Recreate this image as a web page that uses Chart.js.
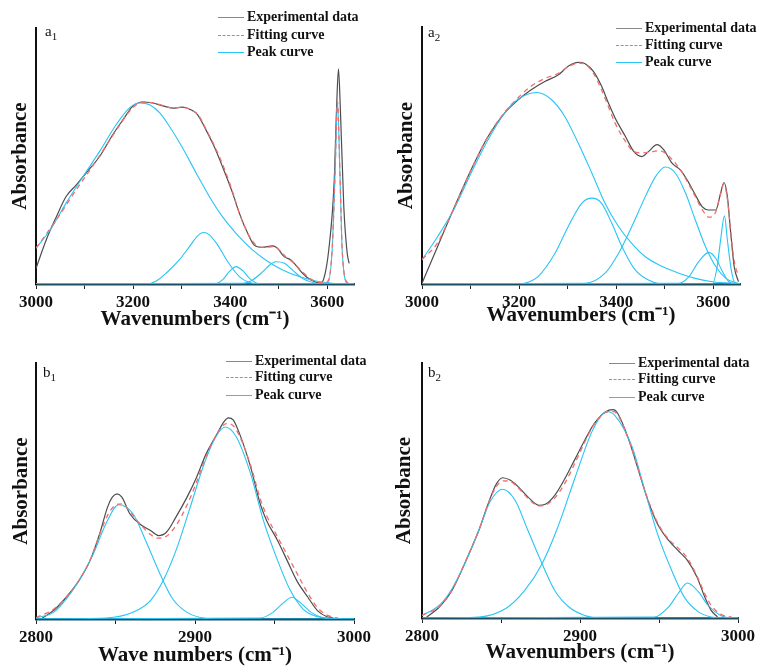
<!DOCTYPE html>
<html>
<head>
<meta charset="utf-8">
<script src="https://cdn.jsdelivr.net/npm/chart.js@4.4.1/dist/chart.umd.min.js"></script>
<style>
body { margin:0; background:#fff; }
#page { position:relative; width:758px; height:668px; overflow:hidden; font-family:"Liberation Serif", "Times New Roman", serif; }
canvas { position:absolute; }
.tag { position:absolute; font-size:15px; color:#111; line-height:15px; }
.tag sub { font-size:11px; }
.leg { position:absolute; height:16px; display:flex; align-items:center; font-weight:bold; font-size:14px; color:#111; white-space:nowrap; }
.leg span { display:inline-block; width:26px; margin-right:3px; border-top:1.5px solid; }
</style>
</head>
<body>
<div id="page">
  <canvas id="a1" width="379" height="334" style="left:0;top:0"></canvas>
  <canvas id="a2" width="379" height="334" style="left:379px;top:0"></canvas>
  <canvas id="b1" width="379" height="334" style="left:0;top:334px"></canvas>
  <canvas id="b2" width="379" height="334" style="left:379px;top:334px"></canvas>

  <div class="tag" style="left:45px;top:24px">a<sub>1</sub></div>
  <div class="tag" style="left:428px;top:25px">a<sub>2</sub></div>
  <div class="tag" style="left:43px;top:365px">b<sub>1</sub></div>
  <div class="tag" style="left:428px;top:365px">b<sub>2</sub></div>

  <div class="leg" style="left:218px;top:9px"><span style="border-color:#888"></span>Experimental data</div>
  <div class="leg" style="left:218px;top:27px"><span style="border-color:#f26d6d;border-top-style:dashed"></span>Fitting curve</div>
  <div class="leg" style="left:218px;top:44px"><span style="border-color:#29c4f5"></span>Peak curve</div>

  <div class="leg" style="left:616px;top:20px"><span style="border-color:#888"></span>Experimental data</div>
  <div class="leg" style="left:616px;top:37px"><span style="border-color:#f26d6d;border-top-style:dashed"></span>Fitting curve</div>
  <div class="leg" style="left:616px;top:54px"><span style="border-color:#29c4f5"></span>Peak curve</div>

  <div class="leg" style="left:226px;top:353px"><span style="border-color:#888"></span>Experimental data</div>
  <div class="leg" style="left:226px;top:369px"><span style="border-color:#f26d6d;border-top-style:dashed"></span>Fitting curve</div>
  <div class="leg" style="left:226px;top:387px"><span style="border-color:#29c4f5"></span>Peak curve</div>

  <div class="leg" style="left:609px;top:355px"><span style="border-color:#888"></span>Experimental data</div>
  <div class="leg" style="left:609px;top:371px"><span style="border-color:#f26d6d;border-top-style:dashed"></span>Fitting curve</div>
  <div class="leg" style="left:609px;top:389px"><span style="border-color:#29c4f5"></span>Peak curve</div>
</div>
<script>
// tick labels
const aTickLabels = [3000, 3200, 3400, 3600];
const bTickLabels = [2800, 2900, 3000];

// ---- a1 : [wavenumber, absorbance] ----
const a1Exp = [[3000,6.1],[3021,17.2],[3042,26.3],[3062,34.2],[3083,38.7],[3103,43.3],[3131,49.8],[3158,58.3],[3179,64.1],[3199,69.4],[3220,71.1],[3240,70.7],[3261,69.6],[3282,68.7],[3302,69.1],[3319,68.1],[3333,66.1],[3350,60.2],[3367,53.7],[3384,45.9],[3405,35.5],[3419,27.6],[3436,19.8],[3449,15.3],[3466,14.3],[3487,14.9],[3497,14.0],[3511,10.7],[3525,9.4],[3535,7.4],[3549,4.2],[3566,1.6],[3586,0.5],[3593,2.2],[3603,13.3],[3614,39.4],[3619,68.1],[3623,84],[3627,68],[3634,30.2],[3641,12],[3645,8.1]];
const a1Fit = [[3000,14],[3040,24.5],[3080,36],[3120,47],[3160,58.5],[3200,69],[3220,71.1],[3240,70.8],[3260,69.8],[3280,68.8],[3300,69],[3320,68],[3335,65.8],[3350,60.5],[3370,53],[3390,44],[3405,36],[3420,27],[3440,18.5],[3455,15],[3470,14.3],[3490,14.6],[3500,13.5],[3515,10.5],[3530,8.4],[3550,4.5],[3570,1.5],[3590,0.5],[3600,0.8],[3610,13.5],[3616,43.5],[3621,71.3],[3626,43.5],[3631,12.2],[3642,0.5],[3650,0.2]];
const a1Peak1 = [[3000,14],[3029,21.1],[3062,31.6],[3097,42],[3131,51.8],[3165,62.2],[3192,68.7],[3213,70.7],[3234,70],[3255,66.8],[3275,61.5],[3302,53.1],[3330,43.3],[3357,34.2],[3384,26.3],[3412,19.8],[3446,13.3],[3473,9.4],[3508,5.5],[3542,2.9],[3576,1.2],[3610,0.3],[3655,0]];
const a1Peak2 = [[3000,0],[3227,0],[3248,1.2],[3268,4.2],[3295,9.4],[3316,14.6],[3333,18.8],[3345,20.1],[3357,19.2],[3374,15.3],[3395,8.7],[3419,2.9],[3446,0.3],[3470,0],[3655,0]];
const a1Peak3 = [[3000,0],[3367,0],[3384,1.6],[3398,4.8],[3412,6.8],[3426,5.2],[3440,2.2],[3457,0.2],[3470,0],[3655,0]];
const a1Peak4 = [[3000,0],[3425,0.3],[3446,1.6],[3467,4.8],[3481,7.4],[3494,8.7],[3512,8.1],[3528,5.5],[3549,2.2],[3576,0.3],[3590,0],[3655,0]];
const a1Peak5 = [[3000,0],[3600,0],[3610,13.3],[3616,43.3],[3621,71.3],[3626,43.3],[3631,12],[3642,0.3],[3655,0]];

// ---- a2 ----
const a2Exp = [[3000,0.3],[3032,14.5],[3067,30.1],[3101,44.4],[3136,57.4],[3170,66.5],[3198,71.7],[3225,75.6],[3253,78.8],[3281,81.4],[3301,84.7],[3322,86.2],[3336,85.7],[3353,82.7],[3370,76.9],[3384,70.4],[3398,64.5],[3419,57.4],[3436,51.6],[3453,49.6],[3467,51.6],[3484,54.2],[3498,52.2],[3515,47],[3532,44.4],[3546,40.5],[3563,34.7],[3577,30.1],[3591,28.8],[3605,28.8],[3615,35.3],[3622,39.5],[3629,34],[3636,19.7],[3643,6.8],[3652,0.9]];
const a2Fit = [[3000,9.5],[3032,16],[3067,30],[3101,44.4],[3136,57.4],[3170,66.8],[3198,72.5],[3225,77],[3253,80],[3281,82],[3301,84.5],[3322,86],[3336,85.5],[3353,82],[3370,75.5],[3384,69],[3398,62.5],[3419,55.5],[3436,51.5],[3453,51],[3470,51.3],[3484,51.8],[3498,51.3],[3515,48.5],[3532,44.5],[3546,40],[3563,34],[3577,29],[3591,26],[3605,28],[3615,35],[3622,39],[3629,33],[3636,20],[3643,9],[3652,3]];
const a2Peak1 = [[3000,9.4],[3032,18.4],[3067,29.5],[3101,43.1],[3136,56.1],[3170,66.5],[3198,71.9],[3236,74.5],[3267,71.7],[3294,65.2],[3322,54.8],[3350,43.1],[3377,31.4],[3405,22.3],[3432,15.8],[3460,10.6],[3495,6.8],[3529,4.2],[3563,2.2],[3598,0.9],[3655,0.2]];
const a2Peak2 = [[3000,0],[3198,0],[3220,0.8],[3239,2.9],[3274,12],[3301,22.3],[3329,31.4],[3350,33.4],[3370,31.4],[3391,23.6],[3412,14.5],[3439,5.5],[3474,0.9],[3501,0],[3655,0]];
const a2Peak3 = [[3000,0],[3336,0.3],[3377,4.2],[3405,12],[3432,22.3],[3460,34],[3481,41.8],[3501,45.5],[3522,43.1],[3543,35.3],[3563,24.9],[3584,14.5],[3605,6.8],[3626,2.2],[3650,0.3],[3655,0]];
const a2Peak4 = [[3000,0],[3529,0.3],[3550,2.9],[3570,8.7],[3591,12.3],[3605,10],[3619,4.8],[3632,0.9],[3645,0],[3655,0]];
const a2Peak5 = [[3000,0],[3598,0],[3608,6.8],[3615,17.1],[3623,26.5],[3629,17.1],[3637,5.5],[3645,0.3],[3655,0]];

// ---- b1 ----
const b1Exp = [[2804,0.4],[2811,3.3],[2819,8.5],[2827,15],[2834,22.8],[2840,33.2],[2845,43.7],[2848,47.6],[2851,48.9],[2854,47.6],[2859,41.1],[2865,37.2],[2872,34.6],[2877,32.6],[2882,33.9],[2888,39.8],[2895,47.6],[2901,55.4],[2907,64.5],[2914,72.4],[2918,76.9],[2921,78.6],[2924,77.8],[2928,72.4],[2935,59.3],[2941,45],[2945,38.5],[2952,30.6],[2958,22.8],[2964,15],[2971,8.5],[2977,3.3],[2983,0.9],[2987,0.4]];
const b1Fit = [[2800,0.5],[2811,3.8],[2819,8.5],[2827,15],[2834,23],[2840,33],[2845,40.5],[2850,44.5],[2854,45],[2859,42],[2865,37.5],[2872,33],[2877,31.6],[2882,32.3],[2888,36.5],[2895,44.5],[2901,53.5],[2907,63.5],[2914,72.5],[2918,75.8],[2921,76.3],[2924,75.5],[2928,71.5],[2935,60],[2941,47],[2945,40.5],[2952,32],[2958,25],[2964,18],[2971,10],[2977,4.5],[2983,1.5],[2990,0.3]];
const b1Peak1 = [[2800,0.4],[2811,2.6],[2819,7.8],[2827,15],[2836,25.4],[2844,37.2],[2852,44.6],[2861,41.1],[2869,30.6],[2878,17.6],[2886,7.8],[2895,2.6],[2905,0.4],[2915,0],[3000,0]];
const b1Peak2 = [[2800,0],[2844,0.4],[2861,2.6],[2872,7.2],[2880,15],[2888,26.7],[2897,43.7],[2905,59.3],[2913,71.1],[2919,75],[2926,71.1],[2935,56.7],[2943,38.5],[2952,22.8],[2960,11.1],[2968,3.9],[2977,0.9],[2985,0.4],[2995,0],[3000,0]];
const b1Peak3 = [[2800,0],[2941,0.4],[2949,2.6],[2956,6.5],[2961,8.5],[2966,6.5],[2973,2.6],[2981,0.4],[2990,0],[3000,0]];

// ---- b2 ----
const b2Exp = [[2803,0.4],[2811,4.3],[2819,10.8],[2827,21.3],[2836,34.4],[2842,45],[2847,52.5],[2851,55],[2856,54],[2861,51.4],[2867,47.5],[2874,44.2],[2878,44.6],[2884,48.1],[2891,55.3],[2897,62.5],[2903,69.7],[2909,76.2],[2916,80.8],[2921,81.7],[2924,80.1],[2931,69.7],[2937,57.9],[2943,46.1],[2949,37],[2956,30.5],[2962,26.5],[2968,22.6],[2974,16.1],[2979,8.2],[2983,3],[2987,0.4]];
const b2Fit = [[2800,1],[2811,4.5],[2819,11],[2827,21.5],[2836,34.5],[2842,45],[2847,51.5],[2851,53.8],[2856,53.5],[2861,51],[2867,47],[2874,44],[2878,44.3],[2884,47],[2891,53.5],[2897,61],[2903,69],[2909,76],[2916,80.5],[2921,81],[2924,79.5],[2931,69.5],[2937,58],[2943,46.5],[2949,37.5],[2956,31],[2962,27.5],[2968,23.5],[2974,16.5],[2979,9.5],[2983,5],[2989,1.5],[2996,0.3]];
const b2Peak1 = [[2800,1],[2811,5],[2819,11.5],[2827,21.3],[2836,34.4],[2843,45.5],[2851,50.5],[2859,46.1],[2867,34.4],[2876,21.3],[2884,10.8],[2893,4.3],[2903,1],[2914,0],[3000,0]];
const b2Peak2 = [[2800,0],[2836,0.4],[2853,3.7],[2865,10.8],[2876,21.3],[2886,35.7],[2897,55.3],[2907,72.3],[2913,79],[2917,81],[2922,79.5],[2933,67.1],[2941,50.1],[2949,33.1],[2958,18.7],[2966,8.2],[2975,2.4],[2983,0.4],[2990,0],[3000,0]];
const b2Peak3 = [[2800,0],[2947,0.4],[2956,4.3],[2962,9.5],[2968,13.7],[2975,10.2],[2981,5],[2989,1],[2996,0],[3000,0]];

const expColor = "#4d4d4d";
const fitColor = "#f26d6d";
const peakColor = "#29c4f5";
const serif = "'Liberation Serif', 'Times New Roman', serif";

function pts(arr) {
    return arr.map(p => ({x: p[0], y: p[1]}));
}

function makeDatasets(exp, fit, peaks) {
    const ds = [];
    ds.push({label: "Fitting curve", data: pts(fit), borderColor: fitColor, borderWidth: 1.3, borderDash: [5, 4], order: 1});
    peaks.forEach(p => {
        ds.push({label: "Peak curve", data: pts(p), borderColor: peakColor, borderWidth: 1.1, order: 2});
    });
    ds.push({label: "Experimental data", data: pts(exp), borderColor: expColor, borderWidth: 1.2, order: 3});
    return ds;
}

function drawPanel(id, p) {
    new Chart(document.getElementById(id), {
        type: "line",
        data: { datasets: makeDatasets(p.exp, p.fit, p.peaks) },
        options: {
            responsive: false,
            animation: false,
            devicePixelRatio: 1,
            layout: { padding: { top: p.top, right: p.right, left: 0, bottom: 0 } },
            elements: {
                point: { radius: 0 },
                line: { cubicInterpolationMode: "monotone", fill: false }
            },
            plugins: { legend: { display: false }, tooltip: { enabled: false } },
            scales: {
                x: {
                    type: "linear",
                    min: p.min,
                    max: p.max,
                    afterFit: s => { s.height = p.xh; },
                    ticks: {
                        stepSize: p.step,
                        includeBounds: false,
                        autoSkip: false,
                        maxRotation: 0,
                        padding: 3,
                        color: "#111",
                        font: { family: serif, size: 17, weight: "bold" },
                        callback: v => p.labels.includes(v) ? String(v) : ""
                    },
                    grid: { drawOnChartArea: false, drawTicks: true, tickLength: 5, color: "#222" },
                    border: { display: true, color: "#1c4f63", width: 2.5 },
                    title: {
                        display: true, text: p.xTitle, color: "#111",
                        font: { family: serif, size: 21, weight: "bold", lineHeight: 1 },
                        padding: { top: 0, bottom: p.xPad }
                    }
                },
                y: {
                    min: 0,
                    max: 100,
                    afterFit: s => { s.width = p.yw; },
                    ticks: { display: false },
                    grid: { display: false },
                    border: { display: true, color: "#111", width: 2 },
                    title: {
                        display: true, text: "Absorbance", color: "#111",
                        font: { family: serif, size: 21, weight: "bold", lineHeight: 1 },
                        padding: { top: p.yPad, bottom: 0 }
                    }
                }
            }
        }
    });
}

drawPanel("a1", {exp: a1Exp, fit: a1Fit, peaks: [a1Peak1, a1Peak2, a1Peak3, a1Peak4, a1Peak5],
    min: 3000, max: 3655, step: 100, labels: aTickLabels, xTitle: "Wavenumbers (cm\u207B\u00B9)",
    top: 28, right: 25, xh: 50, yw: 36, yPad: 10, xPad: 3.5});
drawPanel("a2", {exp: a2Exp, fit: a2Fit, peaks: [a2Peak1, a2Peak2, a2Peak3, a2Peak4, a2Peak5],
    min: 3000, max: 3655, step: 100, labels: aTickLabels, xTitle: "Wavenumbers (cm\u207B\u00B9)",
    top: 27, right: 18, xh: 50, yw: 43, yPad: 17, xPad: 8});
drawPanel("b1", {exp: b1Exp, fit: b1Fit, peaks: [b1Peak1, b1Peak2, b1Peak3],
    min: 2800, max: 3000, step: 50, labels: bTickLabels, xTitle: "Wave numbers (cm\u207B\u00B9)",
    top: 29, right: 25, xh: 49, yw: 36, yPad: 11.5, xPad: 2});
drawPanel("b2", {exp: b2Exp, fit: b2Fit, peaks: [b2Peak1, b2Peak2, b2Peak3],
    min: 2800, max: 3000, step: 50, labels: bTickLabels, xTitle: "Wavenumbers (cm\u207B\u00B9)",
    top: 29, right: 20, xh: 50, yw: 43, yPad: 15.5, xPad: 5});
</script>
</body>
</html>
